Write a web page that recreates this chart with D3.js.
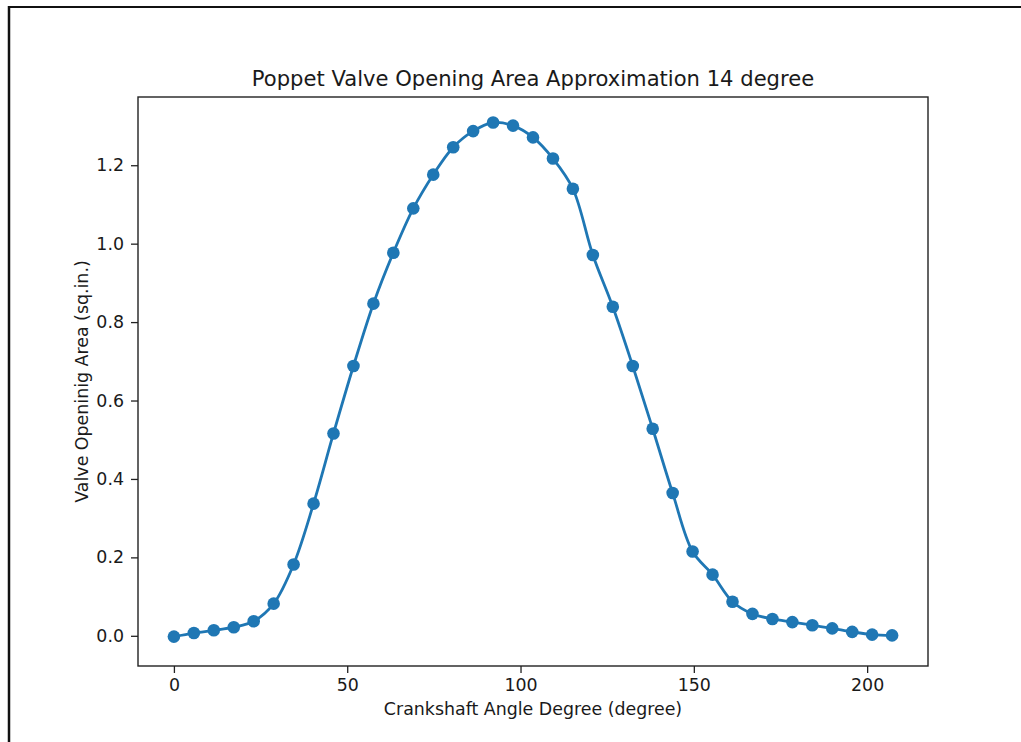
<!DOCTYPE html>
<html>
<head>
<meta charset="utf-8">
<script src="https://cdn.jsdelivr.net/npm/d3@7"></script>
<style>
  body { margin: 0; background: #fff; }
  text { font-family: "DejaVu Sans", sans-serif; fill: #1a1a1a; }
</style>
</head>
<body>
<div id="chart"></div>
<script>
// crank angle (degree) and valve opening area (sq.in.)
const angles = [0, 5.76, 11.51, 17.27, 23.02, 28.78, 34.53, 40.29, 46.04, 51.8,
  57.56, 63.31, 69.07, 74.82, 80.58, 86.33, 92.09, 97.84, 103.6, 109.36,
  115.11, 120.87, 126.62, 132.38, 138.13, 143.89, 149.64, 155.4, 161.16, 166.91,
  172.67, 178.42, 184.18, 189.93, 195.69, 201.44, 207.2];
const areas = [-0.002, 0.007, 0.014, 0.022, 0.037, 0.082, 0.182, 0.337, 0.516, 0.688,
  0.847, 0.977, 1.09, 1.176, 1.246, 1.287, 1.309, 1.301, 1.271, 1.217,
  1.14, 0.971, 0.839, 0.688, 0.528, 0.364, 0.215, 0.156, 0.087, 0.056,
  0.043, 0.035, 0.027, 0.019, 0.01, 0.003, 0.001];
const xTicks = [0, 50, 100, 150, 200];
const yTicks = [0.0, 0.2, 0.4, 0.6, 0.8, 1.0, 1.2];
//y limits as shown on the original axes
const yLimits = [-0.077, 1.374];

const width = 1021, height = 742;
//plot area box
const plot = {left: 138, top: 97, right: 928, bottom: 666};
const blue = '#1f77b4';

let svg = d3.select('#chart').append('svg').attr('width', width).attr('height', height);

//screenshot frame lines
svg.append('line').attr('x1', 9).attr('y1', 7).attr('x2', width).attr('y2', 7)
    .attr('stroke', '#111').attr('stroke-width', 2);
svg.append('line').attr('x1', 9).attr('y1', 6).attr('x2', 9).attr('y2', height)
    .attr('stroke', '#111').attr('stroke-width', 2.5);

//matplotlib style 5% margin on x
let xPad = (d3.max(angles) - d3.min(angles)) * 0.05;
let x = d3.scaleLinear()
    .domain([d3.min(angles) - xPad, d3.max(angles) + xPad])
    .range([plot.left, plot.right]);
let y = d3.scaleLinear()
    .domain(yLimits)
    .range([plot.bottom, plot.top]);

let points = angles.map((a, i) => ({a: a, v: areas[i]}));

//smooth curve through the points
let line = d3.line().x(d => x(d.a)).y(d => y(d.v)).curve(d3.curveCatmullRom.alpha(0.5));
svg.append('path').datum(points)
    .attr('d', line).attr('fill', 'none')
    .attr('stroke', blue).attr('stroke-width', 2.8);

svg.selectAll('.dot').data(points).enter().append('circle')
    .attr('class', 'dot')
    .attr('cx', d => x(d.a)).attr('cy', d => y(d.v))
    .attr('r', 6.3).attr('fill', blue);

//axes
let xAxis = d3.axisBottom(x).tickValues(xTicks).tickFormat(d3.format('d'))
    .tickSizeInner(7).tickSizeOuter(0).tickPadding(6);
let yAxis = d3.axisLeft(y).tickValues(yTicks).tickFormat(d3.format('.1f'))
    .tickSizeInner(7).tickSizeOuter(0).tickPadding(7);

let gx = svg.append('g').attr('transform', 'translate(0,' + plot.bottom + ')').call(xAxis);
let gy = svg.append('g').attr('transform', 'translate(' + plot.left + ',0)').call(yAxis);
[gx, gy].forEach(g => {
    g.select('.domain').remove();
    g.selectAll('.tick line').attr('stroke', '#222').attr('stroke-width', 1.3);
    g.selectAll('.tick text').attr('font-size', '17.4px').attr('fill', '#1a1a1a')
        .style('font-family', '"DejaVu Sans", sans-serif');
});

//frame of the axes
svg.append('rect')
    .attr('x', plot.left).attr('y', plot.top)
    .attr('width', plot.right - plot.left).attr('height', plot.bottom - plot.top)
    .attr('fill', 'none').attr('stroke', '#222').attr('stroke-width', 1.4);

//title and labels
let midX = (plot.left + plot.right) / 2;
svg.append('text').attr('x', midX).attr('y', 86)
    .attr('text-anchor', 'middle').attr('font-size', '21.1px')
    .text('Poppet Valve Opening Area Approximation 14 degree');
svg.append('text').attr('x', midX).attr('y', 715)
    .attr('text-anchor', 'middle').attr('font-size', '17.4px')
    .text('Crankshaft Angle Degree (degree)');
svg.append('text')
    .attr('transform', 'translate(88,' + ((plot.top + plot.bottom) / 2) + ') rotate(-90)')
    .attr('text-anchor', 'middle').attr('font-size', '17.4px')
    .text('Valve Openinig Area (sq.in.)');
</script>
</body>
</html>
